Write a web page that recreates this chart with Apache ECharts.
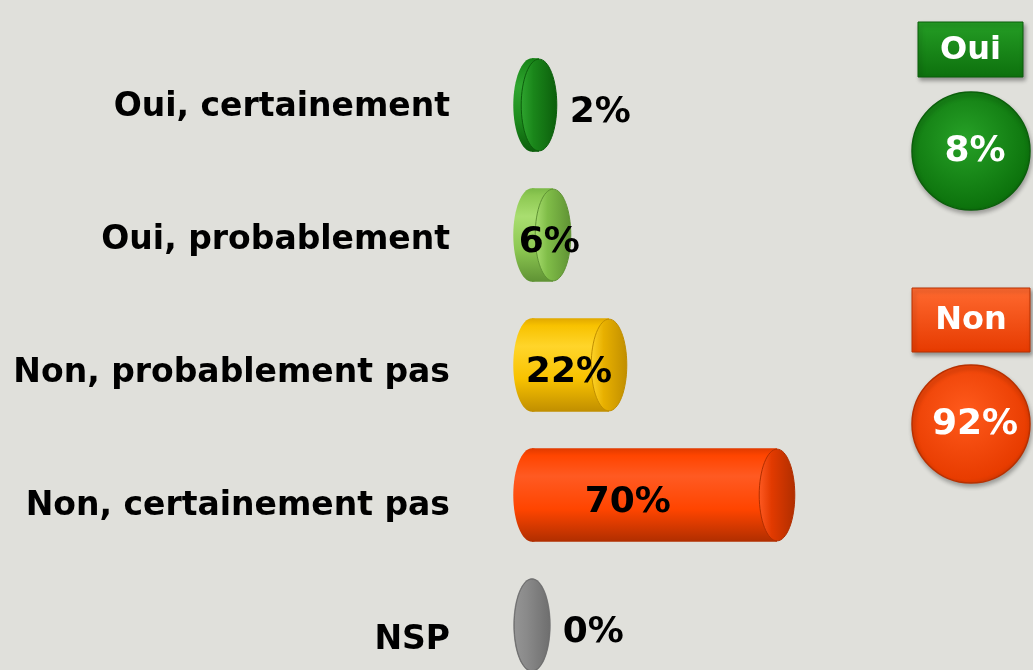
<!DOCTYPE html>
<html>
<head>
<meta charset="utf-8">
<script src="https://cdn.jsdelivr.net/npm/echarts@6/dist/echarts.min.js"></script>
<style>
html,body{margin:0;padding:0;background:#e0e0db;}
#c{width:1033px;height:670px;}
</style>
</head>
<body>
<div id="c"></div>
<script>
// ---- data ----
const categories = ['Oui, certainement', 'Oui, probablement', 'Non, probablement pas', 'Non, certainement pas', 'NSP'];
const values = [2, 6, 22, 70, 0];
const summaryLabels = ['Oui', 'Non'];
const summaryValues = [8, 92];

// ---- styles ----
const shades = [
  {top:'#148014', light:'#2fa52f', base:'#1d8c1d', dark:'#0c5e0c', face:'#1a861a'},
  {top:'#7ab846', light:'#a9de70', base:'#8dc852', dark:'#5f9234', face:'#80bd48'},
  {top:'#e0a800', light:'#ffd52a', base:'#f8c200', dark:'#c08e00', face:'#e8b000'},
  {top:'#e03a00', light:'#ff5a22', base:'#ff4500', dark:'#b02e00', face:'#e23a00'},
  {top:'#7a7a7a', light:'#959595', base:'#8a8a8a', dark:'#6e6e6e', face:'#8a8a8a'}
];
const summaryStyle = [
  {top:'#259e25', bottom:'#0d700d', light:'#27a127', edge:'#0d740d', stroke:'#0b5f0b'},
  {top:'#ff6a30', bottom:'#e63a00', light:'#ff5a1c', edge:'#e83c00', stroke:'#b83000'}
];
const FONT = '"DejaVu Sans", Verdana, sans-serif';

function grad(s){
  return new echarts.graphic.LinearGradient(0,0,0,1,[
    {offset:0, color:s.top},
    {offset:0.08, color:s.base},
    {offset:0.3, color:s.light},
    {offset:0.65, color:s.base},
    {offset:1, color:s.dark}
  ]);
}
function faceGrad(s){
  return new echarts.graphic.LinearGradient(0,0,1,0,[
    {offset:0, color:s.light},
    {offset:0.35, color:s.face},
    {offset:1, color:s.dark}
  ]);
}

function renderItem(params, api){
  const v = api.value(0), i = api.value(1);
  const p0 = api.coord([0, i]);
  const p1 = api.coord([v, i]);
  const band = api.size([0, 1])[1];
  const h = band * 0.72, ry = h / 2, rx = h * 0.2;
  const cy = p0[1], x0 = p0[0], x1 = p1[0];
  const s = shades[i % shades.length];
  const children = [];
  children.push({type:'ellipse', shape:{cx:x0, cy:cy, rx:rx, ry:ry}, style:{fill:grad(s)}});
  if (x1 > x0) {
    children.push({type:'rect', shape:{x:x0, y:cy-ry, width:x1-x0, height:h}, style:{fill:grad(s)}});
  }
  children.push({type:'ellipse', shape:{cx:x1, cy:cy, rx:rx*0.95, ry:ry*0.98},
    style:{fill:faceGrad(s), stroke:s.dark, lineWidth:1}});
  const body = x1 - x0;
  let lx, align;
  if (v < 5) { lx = x1 + rx + 12; align = 'left'; }
  else { lx = x0 + 0.35 * body + 10; align = 'center'; }
  children.push({type:'text', style:{text: v + '%', x: lx, y: cy + 8, fill:'#000',
    font:'bold 36px ' + FONT, align: align, verticalAlign:'middle'}});
  return {type:'group', children: children};
}

const graphics = [];
summaryLabels.forEach(function(lab, k){
  const st = summaryStyle[k];
  const boxY = k === 0 ? 22 : 288;
  const boxH = k === 0 ? 55 : 64;
  const boxX = k === 0 ? 918 : 912;
  const boxW = k === 0 ? 105 : 118;
  const cY = k === 0 ? 151 : 424;
  graphics.push({type:'rect', shape:{x:boxX, y:boxY, width:boxW, height:boxH},
    style:{fill:new echarts.graphic.LinearGradient(0,0,0,1,[{offset:0,color:st.top},{offset:1,color:st.bottom}]),
      stroke:st.stroke, lineWidth:1, shadowBlur:4, shadowOffsetX:2, shadowOffsetY:3, shadowColor:'rgba(0,0,0,0.35)'}});
  graphics.push({type:'text', style:{text:lab, x:boxX + boxW/2, y:boxY + boxH/2 + 1, fill:'#fff',
    font:'bold 32px ' + FONT, align:'center', verticalAlign:'middle'}});
  graphics.push({type:'circle', shape:{cx:971, cy:cY, r:59},
    style:{fill:new echarts.graphic.RadialGradient(0.45,0.4,0.7,[{offset:0,color:st.light},{offset:0.8,color:st.edge},{offset:1,color:st.stroke}]),
      stroke:st.stroke, lineWidth:1.5, shadowBlur:4, shadowOffsetX:1, shadowOffsetY:3, shadowColor:'rgba(0,0,0,0.3)'}});
  graphics.push({type:'text', style:{text:summaryValues[k] + '%', x:975, y:cY + 1, fill:'#fff',
    font:'bold 36px ' + FONT, align:'center', verticalAlign:'middle'}});
});

const chart = echarts.init(document.getElementById('c'), null, {renderer:'canvas'});
chart.setOption({
  backgroundColor:'#e0e0db',
  animation:false,
  grid:[
    {left:532, top:105, width:350, height:520},
    {left:450, top:107, width:1, height:533}
  ],
  xAxis:[
    {type:'value', gridIndex:0, min:0, max:100, show:false},
    {type:'value', gridIndex:1, show:false}
  ],
  yAxis:[
    {type:'category', gridIndex:0, data:categories, inverse:true, boundaryGap:false, show:false},
    {type:'category', gridIndex:1, data:categories, inverse:true, boundaryGap:false,
      axisLine:{show:false}, axisTick:{show:false}, splitLine:{show:false},
      axisLabel:{margin:0, color:'#000', fontWeight:'bold', fontSize:33, fontFamily:FONT, align:'right'}}
  ],
  series:[{
    type:'custom', xAxisIndex:0, yAxisIndex:0,
    renderItem:renderItem,
    encode:{x:0, y:1},
    data: values.map(function(v, i){ return [v, i]; }),
    clip:false
  }],
  graphic: graphics
});
</script>
</body>
</html>
